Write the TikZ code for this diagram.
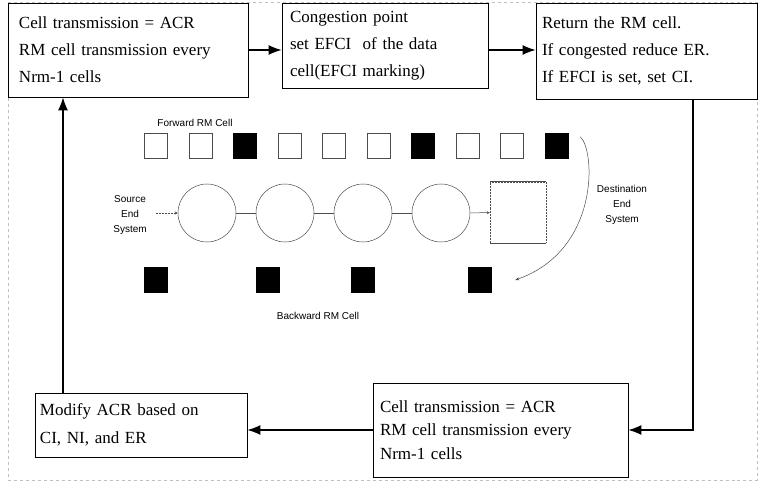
\documentclass[tikz,border=0pt]{standalone}
\usepackage{fontspec}
\setmainfont{Liberation Serif}
\setsansfont{Liberation Sans}
\usetikzlibrary{positioning,arrows.meta}

\begin{document}
\begin{tikzpicture}[x=1bp,y=-1bp,
        procbox/.style={draw,line width=0.9bp,align=left,inner ysep=0bp,
            font=\fontsize{17bp}{27bp}\selectfont},
        flow/.style={line width=1.1bp,-{Latex[length=13bp,width=10bp]}},
        cell/.style={draw=black!70,line width=0.5bp,minimum width=23bp,minimum height=25bp,inner sep=0bp},
        blackcell/.style={cell,fill=black,draw=black},
        switch/.style={circle,draw=black!70,line width=0.5bp,minimum size=58bp,inner sep=0bp},
        thinline/.style={black!70,line width=0.5bp},
        smalltext/.style={font=\sffamily\fontsize{10bp}{15bp}\selectfont,align=center,inner sep=0bp}]
            \useasboundingbox (0,0) rectangle (759,483);
            \draw [black!25,dashed,line width=0.5bp] (8,2) rectangle (757,480);

            % the five steps
            \node [procbox,inner xsep=11bp,text width=218bp,minimum height=94bp] (srcrate) at (128,50) {Cell transmission = ACR\\RM cell transmission every\\Nrm-1 cells};
            \node [procbox,inner xsep=8bp,text width=190bp,minimum height=85bp] (switchmark) at (385,45.5) {Congestion point\\set EFCI \ of the data\\cell(EFCI marking)};
            \node [procbox,inner xsep=6bp,text width=209bp,minimum height=96bp] (destret) at (646.5,51) {Return the RM cell.\\If congested reduce ER.\\If EFCI is set, set CI.};
            \node [procbox,inner xsep=7bp,text width=241bp,minimum height=94bp,font=\fontsize{17bp}{23.5bp}\selectfont] (bwrate) at (500.5,430) {Cell transmission = ACR\\RM cell transmission every\\Nrm-1 cells};
            \node [procbox,inner xsep=5bp,text width=202bp,minimum height=64bp,font=\fontsize{17bp}{28bp}\selectfont] (modacr) at (141,425) {Modify ACR based on\\CI, NI, and ER};

            \draw [flow] (srcrate.east) -- (srcrate.east -| switchmark.west);
            \draw [flow] (switchmark.east |- srcrate.east) -- (destret.west |- srcrate.east);
            \draw [flow] ([xshift=46.5bp]destret.south) |- (bwrate.east);
            \draw [flow] (bwrate.west) -- (bwrate.west -| modacr.east);
            \draw [flow] ([xshift=-78bp]modacr.north) -- ([xshift=-78bp]modacr.north |- srcrate.south);

            % network sketch
            \foreach \i/\s in {1/cell,2/cell,3/blackcell,4/cell,5/cell,6/cell,7/blackcell,8/cell,9/cell,10/blackcell}
                \node [\s] (fw\i) at ({156+44.5*(\i-1)},145.5) {};
            \foreach \i/\x in {1/156,2/268,3/363,4/479.5}
                \node [blackcell] (bw\i) at (\x,280) {};
            \foreach \i/\x in {1/207,2/285,3/363,4/441}
                \node [switch] (sw\i) at (\x,213) {};
            \node [draw=black!70,densely dotted,line width=0.5bp,minimum width=56bp,minimum height=61bp] (dst) at (518,212.5) {};
            \draw [thinline] (dst.north west) -- (dst.north east) (dst.south west) -- (dst.south east);

            \draw [thinline] (sw1) -- (sw2) (sw2) -- (sw3) (sw3) -- (sw4);
            \draw [thinline,-{Stealth[length=3bp,width=3bp]}] (sw4) -- (dst);

            \node [smalltext] (fwlbl) at (195,123) {Forward RM Cell};
            \node [smalltext] (bwlbl) at (318,316) {Backward RM Cell};
            \node [smalltext] (srclbl) at (130,215) {Source\\End\\System};
            \node [smalltext] (dstlbl) at (622,205) {Destination\\End\\System};

            \draw [thinline,densely dotted,-{Stealth[length=3bp,width=3bp]}] ([xshift=9bp]srclbl.east |- sw1) -- (sw1.west);
            \draw [thinline,-{Stealth[length=4bp,width=3bp]}] ([xshift=12bp,yshift=-4bp]fw10.north east) .. controls +(15,13) and +(85,-30) .. ([xshift=24bp]bw4.east);
        \end{tikzpicture}
\end{document}
